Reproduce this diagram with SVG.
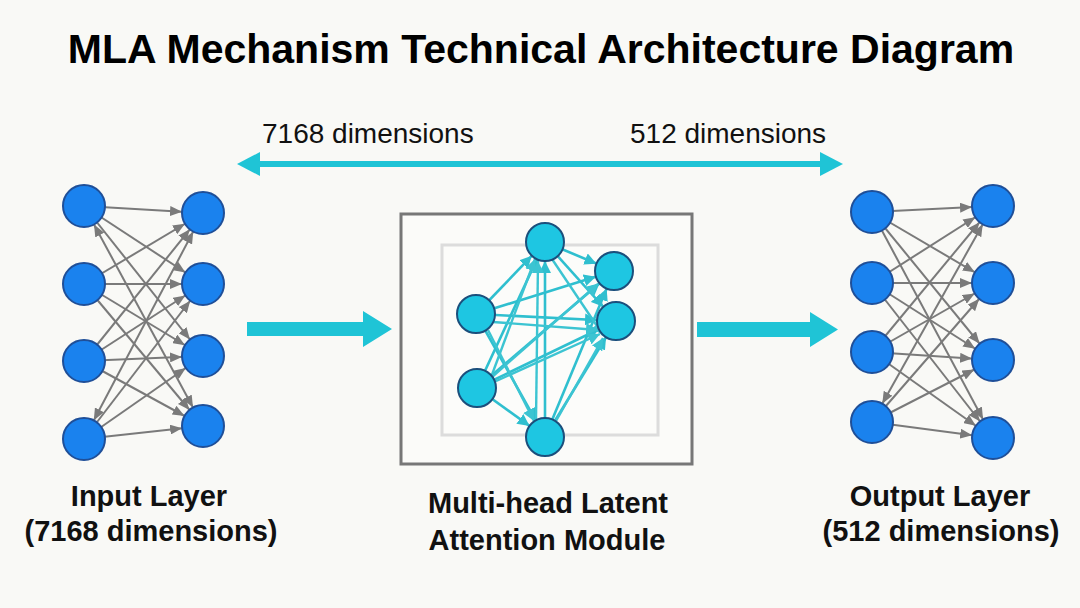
<svg xmlns="http://www.w3.org/2000/svg" width="1080" height="608" viewBox="0 0 1080 608">
  <style>
    .title { font-family: "Liberation Sans", Arial, sans-serif; font-weight: bold; font-size: 41px; fill: #000; }
    .dim { font-family: "Liberation Sans", Arial, sans-serif; font-size: 28px; fill: #111; }
    .lbl { font-family: "Liberation Sans", Arial, sans-serif; font-weight: bold; font-size: 29px; fill: #111; text-anchor: middle; }
    .ge { stroke: #7a7a7a; stroke-width: 2; fill: none; marker-end: url(#ga); }
    .ce { stroke: #2fbfcf; stroke-width: 2.6; fill: none; marker-end: url(#ca); }
    .cx { stroke: #3cc4d2; stroke-width: 2.4; fill: none; marker-end: url(#cb); }
    .bn { fill: #1a82ee; stroke: #1f4f98; stroke-width: 2; }
    .cn { fill: #1ec6e2; stroke: #1b4f7c; stroke-width: 2; }
    .big { fill: #1fc4d6; }
  </style>
  <defs>
    <marker id="ga" viewBox="0 0 33 10" refX="33" refY="5" markerWidth="33" markerHeight="10" markerUnits="userSpaceOnUse" orient="auto-start-reverse">
      <path d="M0,0 L12,5 L0,10 z" fill="#7a7a7a"/>
    </marker>
    <marker id="ca" viewBox="0 0 31 12" refX="31" refY="6" markerWidth="31" markerHeight="12" markerUnits="userSpaceOnUse" orient="auto">
      <path d="M0,0 L12,6 L0,12 z" fill="#2fbfcf"/>
    </marker>
    <marker id="cb" viewBox="0 0 12 12" refX="12" refY="6" markerWidth="12" markerHeight="12" markerUnits="userSpaceOnUse" orient="auto">
      <path d="M0,0 L12,6 L0,12 z" fill="#3cc4d2"/>
    </marker>
  </defs>
  <rect width="1080" height="608" fill="#f9f9f6"/>

  <text class="title" x="541" y="63" text-anchor="middle">MLA Mechanism Technical Architecture Diagram</text>

  <g id="connectors">
    <g id="dim-arrow">
      <rect x="258" y="161" width="564" height="6" class="big"/>
      <path d="M237,164 L260,152 L260,176 z" class="big"/>
      <path d="M843,164 L820,152 L820,176 z" class="big"/>
    </g>
    <path id="arrow-in" class="big" d="M247,322 L363,322 L363,311 L392,329 L363,347 L363,336 L247,336 z"/>
    <path id="arrow-out" class="big" d="M697,322 L810,322 L810,312 L838,329.5 L810,347 L810,337 L697,337 z"/>

    <g id="input-edges">
      <line class="ge" x1="84" y1="206" x2="203" y2="213"/>
      <line class="ge" x1="84" y1="206" x2="203" y2="284"/>
      <line class="ge" x1="84" y1="206" x2="203" y2="356"/>
      <line class="ge" x1="84" y1="206" x2="203" y2="426" style="marker-start:url(#ga)"/>
      <line class="ge" x1="84" y1="284" x2="203" y2="213"/>
      <line class="ge" x1="84" y1="284" x2="203" y2="284"/>
      <line class="ge" x1="84" y1="284" x2="203" y2="356"/>
      <line class="ge" x1="84" y1="284" x2="203" y2="426"/>
      <line class="ge" x1="84" y1="361" x2="203" y2="213"/>
      <line class="ge" x1="84" y1="361" x2="203" y2="284"/>
      <line class="ge" x1="84" y1="361" x2="203" y2="356"/>
      <line class="ge" x1="84" y1="361" x2="203" y2="426"/>
      <line class="ge" x1="84" y1="439" x2="203" y2="213" style="marker-start:url(#ga)"/>
      <line class="ge" x1="84" y1="439" x2="203" y2="284"/>
      <line class="ge" x1="84" y1="439" x2="203" y2="356"/>
      <line class="ge" x1="84" y1="439" x2="203" y2="426"/>
    </g>

    <g id="output-edges">
      <line class="ge" x1="872" y1="212" x2="993" y2="206"/>
      <line class="ge" x1="872" y1="212" x2="993" y2="283"/>
      <line class="ge" x1="872" y1="212" x2="993" y2="360"/>
      <line class="ge" x1="872" y1="212" x2="993" y2="438"/>
      <line class="ge" x1="872" y1="283" x2="993" y2="206"/>
      <line class="ge" x1="872" y1="283" x2="993" y2="283"/>
      <line class="ge" x1="872" y1="283" x2="993" y2="360"/>
      <line class="ge" x1="872" y1="283" x2="993" y2="438"/>
      <line class="ge" x1="872" y1="352" x2="993" y2="206"/>
      <line class="ge" x1="872" y1="352" x2="993" y2="283"/>
      <line class="ge" x1="872" y1="352" x2="993" y2="360"/>
      <line class="ge" x1="872" y1="352" x2="993" y2="438"/>
      <line class="ge" x1="872" y1="422" x2="993" y2="206" style="marker-start:url(#ga)"/>
      <line class="ge" x1="872" y1="422" x2="993" y2="283"/>
      <line class="ge" x1="872" y1="422" x2="993" y2="360"/>
      <line class="ge" x1="872" y1="422" x2="993" y2="438"/>
    </g>
  </g>

  <g id="input-layer">
    <circle class="bn" cx="84" cy="206" r="21"/>
    <circle class="bn" cx="84" cy="284" r="21"/>
    <circle class="bn" cx="84" cy="361" r="21"/>
    <circle class="bn" cx="84" cy="439" r="21"/>
    <circle class="bn" cx="203" cy="213" r="21"/>
    <circle class="bn" cx="203" cy="284" r="21"/>
    <circle class="bn" cx="203" cy="356" r="21"/>
    <circle class="bn" cx="203" cy="426" r="21"/>
    <text class="lbl" x="149" y="506">Input Layer</text>
    <text class="lbl" x="151" y="541">(7168 dimensions)</text>
  </g>

  <g id="mla-module">
    <rect x="401" y="214" width="291" height="250" fill="#fbfbf9" stroke="#777" stroke-width="3"/>
    <rect x="442" y="245" width="216" height="190" fill="#fcfcfa" stroke="#dcdcdc" stroke-width="3"/>
    <g id="mla-edges">
      <line class="ce" x1="476" y1="314" x2="545" y2="242"/>
      <line class="ce" x1="476" y1="314" x2="614" y2="271"/>
      <line class="ce" x1="476" y1="314" x2="616" y2="321"/>
      <line class="ce" x1="476" y1="314" x2="545" y2="437"/>
      <line class="ce" x1="477" y1="388" x2="545" y2="242"/>
      <line class="ce" x1="477" y1="388" x2="614" y2="271"/>
      <line class="ce" x1="477" y1="388" x2="616" y2="321"/>
      <line class="ce" x1="477" y1="388" x2="545" y2="437"/>
      <line class="ce" x1="545" y1="437" x2="545" y2="242"/>
      <line class="ce" x1="545" y1="437" x2="614" y2="271"/>
      <line class="ce" x1="545" y1="437" x2="616" y2="321"/>
      <line class="ce" x1="545" y1="242" x2="614" y2="271"/>
      <line class="ce" x1="545" y1="242" x2="616" y2="321"/>
      <line class="cx" x1="490" y1="380" x2="535" y2="259"/>
      <line class="cx" x1="536" y1="420" x2="538" y2="261"/>
      <line class="cx" x1="493" y1="322" x2="598" y2="330"/>
      <line class="cx" x1="494" y1="382" x2="600" y2="334"/>
      <line class="cx" x1="556" y1="421" x2="603" y2="338"/>
      <line class="cx" x1="492" y1="377" x2="598" y2="284"/>
      <line class="cx" x1="552" y1="259" x2="603" y2="335"/>
      <line class="cx" x1="488" y1="330" x2="534" y2="421"/>
    </g>
    <circle class="cn" cx="545" cy="242" r="19"/>
    <circle class="cn" cx="614" cy="271" r="19"/>
    <circle class="cn" cx="616" cy="321" r="19"/>
    <circle class="cn" cx="476" cy="314" r="19"/>
    <circle class="cn" cx="477" cy="388" r="19"/>
    <circle class="cn" cx="545" cy="437" r="19"/>
    <text class="lbl" x="548" y="513">Multi-head Latent</text>
    <text class="lbl" x="547" y="550">Attention Module</text>
  </g>

  <g id="output-layer">
    <circle class="bn" cx="872" cy="212" r="21"/>
    <circle class="bn" cx="872" cy="283" r="21"/>
    <circle class="bn" cx="872" cy="352" r="21"/>
    <circle class="bn" cx="872" cy="422" r="21"/>
    <circle class="bn" cx="993" cy="206" r="21"/>
    <circle class="bn" cx="993" cy="283" r="21"/>
    <circle class="bn" cx="993" cy="360" r="21"/>
    <circle class="bn" cx="993" cy="438" r="21"/>
    <text class="lbl" x="940" y="506">Output Layer</text>
    <text class="lbl" x="941" y="541">(512 dimensions)</text>
  </g>

  <g id="dim-labels">
    <text class="dim" x="262" y="143">7168 dimensions</text>
    <text class="dim" x="630" y="143">512 dimensions</text>
  </g>
</svg>
